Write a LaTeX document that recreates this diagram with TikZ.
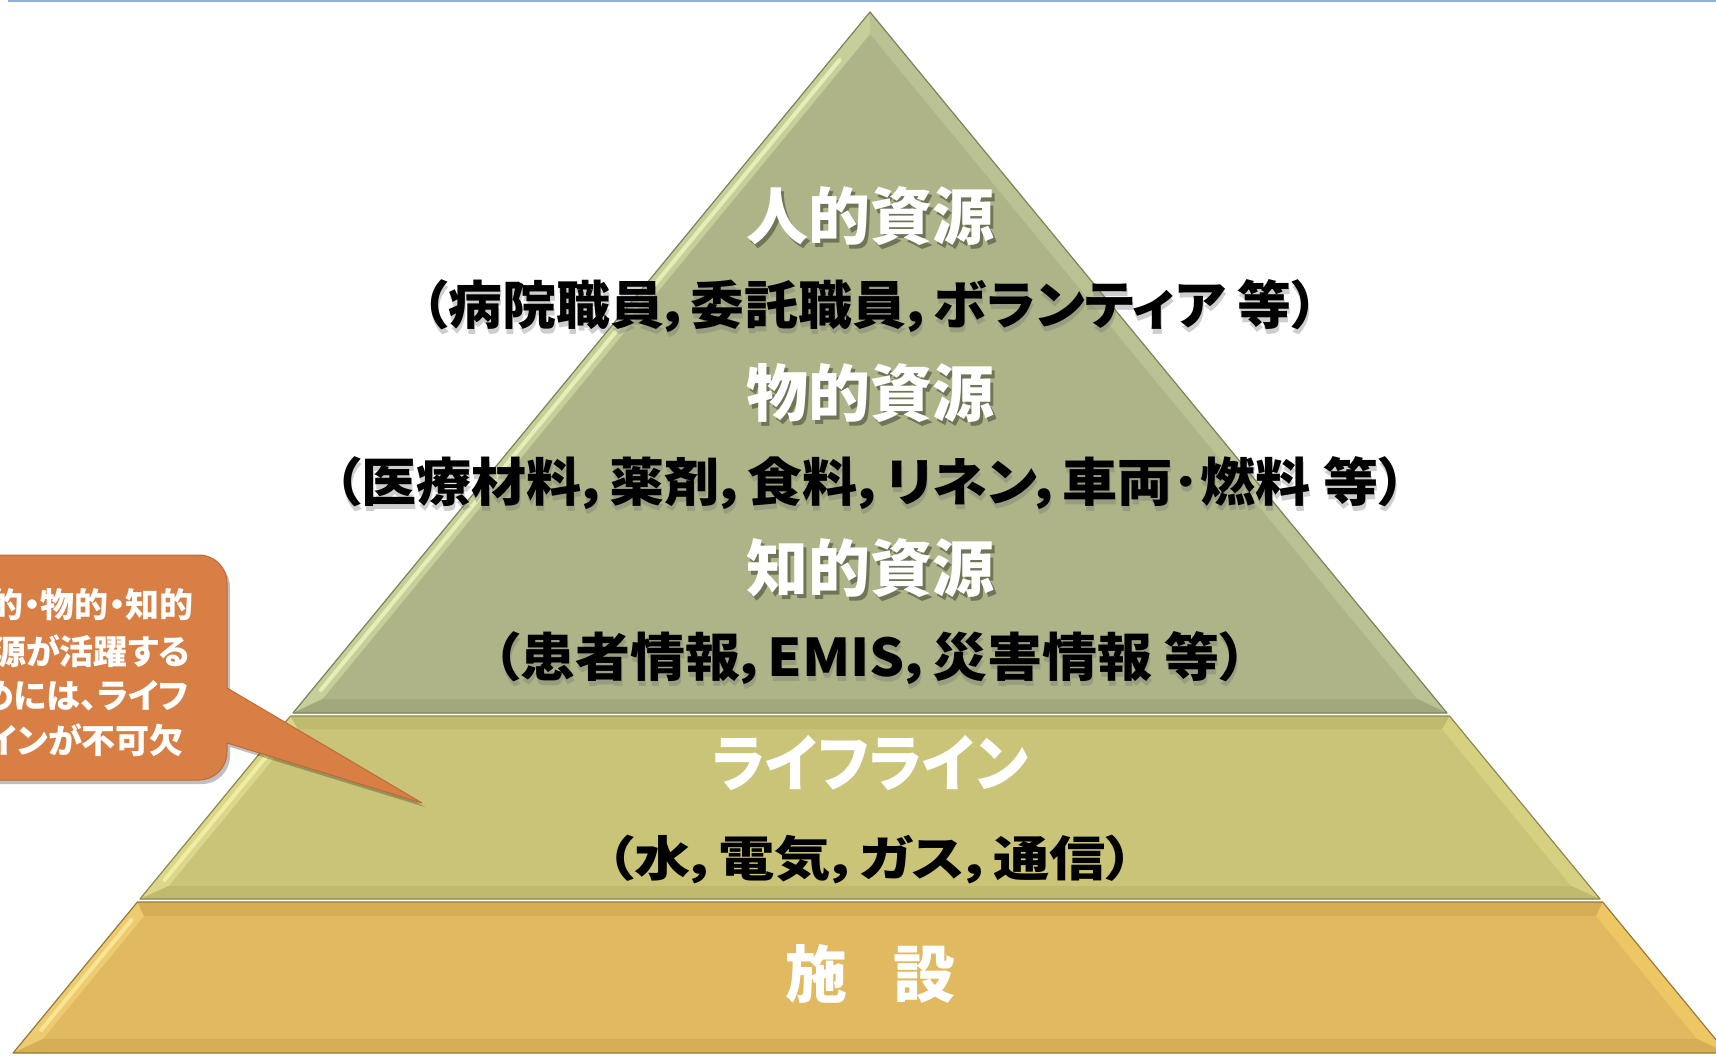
\documentclass[tikz,border=0pt]{standalone}
\usepackage{fontspec}
\newfontfamily\jp[RawFeature=+palt]{Noto Sans CJK JP}
\newfontfamily\jpf{Noto Sans CJK JP}
\definecolor{topbase}{HTML}{AEB487}
\definecolor{toplight}{HTML}{C6CE9A}
\definecolor{tophl}{HTML}{EEF5BE}
\definecolor{topright}{HTML}{BAC192}
\definecolor{topdark}{HTML}{A2A87C}
\definecolor{topline}{HTML}{7C825C}
\definecolor{midbase}{HTML}{C9C478}
\definecolor{midlight}{HTML}{DAD68A}
\definecolor{midhl}{HTML}{F6F2A8}
\definecolor{midright}{HTML}{D6D180}
\definecolor{middark}{HTML}{BFBA6E}
\definecolor{midline}{HTML}{8E894E}
\definecolor{botbase}{HTML}{E1B960}
\definecolor{botlight}{HTML}{EDCB70}
\definecolor{bothl}{HTML}{FDEB9C}
\definecolor{botright}{HTML}{EEC765}
\definecolor{botdark}{HTML}{D6AE56}
\definecolor{botline}{HTML}{977A3A}
\definecolor{callfill}{HTML}{D87F45}
\definecolor{callline}{HTML}{BF6A35}
\definecolor{topblue}{HTML}{8DB3D9}
\tikzset{
  tier/.style={line width=1.2pt, line join=round},
  ttl/.style={font=\jp\bfseries\fontsize{62}{62}\selectfont, text=white, inner sep=0pt},
  ttlsh/.style={font=\jp\bfseries\fontsize{62}{62}\selectfont, text=black, opacity=0.35, inner sep=0pt},
  sub/.style={font=\jp\bfseries\fontsize{52}{52}\selectfont, text=black, inner sep=0pt},
  subsh/.style={font=\jp\bfseries\fontsize{52}{52}\selectfont, text=black!55, opacity=0.35, inner sep=0pt},
  ctext/.style={font=\jp\bfseries\fontsize{34}{34}\selectfont, text=white, inner sep=0pt, anchor=east},
  hl/.style={line width=4pt, line cap=round, opacity=0.8}
}
\begin{document}
\begin{tikzpicture}[x=1pt,y=-1pt]
\useasboundingbox (0,0) rectangle (1716,1055);
\clip (0,0) rectangle (1716,1055);
\fill[white] (0,0) rectangle (1716,1055);
\draw[topblue, line width=2pt] (8,1) -- (1716,1);

% ---------- bottom tier (施設)
\coordinate (bTL) at (137.4,902); \coordinate (bTR) at (1602.6,902);
\coordinate (bBR) at (1726.9,1053); \coordinate (bBL) at (13.1,1053);
\coordinate (biTL) at (144.0,916); \coordinate (biTR) at (1596.0,916);
\coordinate (biBR) at (1697.2,1039); \coordinate (biBL) at (42.8,1039);
\fill[botbase] (bTL) -- (bTR) -- (bBR) -- (bBL) -- cycle;
\fill[botlight] (bTL) -- (bBL) -- (biBL) -- (biTL) -- cycle;
\fill[botright] (bTR) -- (biTR) -- (biBR) -- (bBR) -- cycle;
\fill[botdark] (bTL) -- (bTR) -- (biTR) -- (biTL) -- cycle;
\fill[botdark] (bBL) -- (bBR) -- (biBR) -- (biBL) -- cycle;
\draw[bothl, hl] (131.6,920) -- (41.1,1030);
\draw[botline, tier] (bTL) -- (bTR) -- (bBR) -- (bBL) -- cycle;

% ---------- middle tier (ライフライン)
\coordinate (mTL) at (290.5,716); \coordinate (mTR) at (1449.5,716);
\coordinate (mBR) at (1600.1,899); \coordinate (mBL) at (139.9,899);
\coordinate (miTL) at (297.9,729); \coordinate (miTR) at (1442.1,729);
\coordinate (miBR) at (1571.3,886); \coordinate (miBL) at (168.7,886);
\fill[midbase] (mTL) -- (mTR) -- (mBR) -- (mBL) -- cycle;
\fill[midlight] (mTL) -- (mBL) -- (miBL) -- (miTL) -- cycle;
\fill[midright] (mTR) -- (miTR) -- (miBR) -- (mBR) -- cycle;
\fill[middark] (mTL) -- (mTR) -- (miTR) -- (miTL) -- cycle;
\fill[middark] (mBL) -- (mBR) -- (miBR) -- (miBL) -- cycle;
\draw[midhl, hl] (283.9,735) -- (164.5,880);
\draw[midline, tier] (mTL) -- (mTR) -- (mBR) -- (mBL) -- cycle;

% ---------- top tier (resources)
\coordinate (tA) at (870,12); \coordinate (tBL) at (293,713); \coordinate (tBR) at (1447,713);
\coordinate (tiA) at (870,34); \coordinate (tiBL) at (322.6,699); \coordinate (tiBR) at (1417.4,699);
\fill[topbase] (tA) -- (tBR) -- (tBL) -- cycle;
\fill[toplight] (tA) -- (tBL) -- (tiBL) -- (tiA) -- cycle;
\fill[topright] (tA) -- (tiA) -- (tiBR) -- (tBR) -- cycle;
\fill[topdark] (tBL) -- (tBR) -- (tiBR) -- (tiBL) -- cycle;
\draw[tophl, hl] (839.5,60) -- (320.9,690);
\draw[topline, tier] (tA) -- (tBR) -- (tBL) -- cycle;

% ---------- callout
\fill[black, opacity=0.25] (-40,559) -- (202,559) arc[start angle=-90, end angle=0, radius=28] -- (230,692) -- (425,807) -- (230,747) -- (230,756) arc[start angle=0, end angle=90, radius=28] -- (-40,784) -- cycle;
\draw[callline, fill=callfill, line width=1pt, line join=round] (-40,555) -- (199,555) arc[start angle=-90, end angle=0, radius=28] -- (227,688) -- (422,803) -- (227,743) -- (227,752) arc[start angle=0, end angle=90, radius=28] -- (-40,780) -- cycle;
\node[ctext] (c1) at (194,605) {人的・物的・知的};
\node[ctext] (c2) at (190,651) {資源が活躍する};
\node[ctext] (c3) at (189,696) {ためには、ライフ};
\node[ctext] (c4) at (184,740) {ラインが不可欠};

% ---------- texts
\node[ttlsh] (t1s) at (873,220) {人的資源};
\node[ttl] (t1) at (870,216) {人的資源};
\node[subsh] (s1s) at (871,311) {\resizebox{897pt}{\height}{（病院職員，委託職員，ボランティア 等）}};
\node[sub] (s1) at (870,306) {\resizebox{897pt}{\height}{（病院職員，委託職員，ボランティア 等）}};

\node[ttlsh] (t2s) at (873,397) {物的資源};
\node[ttl] (t2) at (870,393) {物的資源};
\node[subsh] (s2s) at (871,488) {\resizebox{1072pt}{\height}{（医療材料，薬剤，食料，リネン，車両･燃料 等）}};
\node[sub] (s2) at (870,483) {\resizebox{1072pt}{\height}{（医療材料，薬剤，食料，リネン，車両･燃料 等）}};

\node[ttlsh] (t3s) at (873,572) {知的資源};
\node[ttl] (t3) at (870,568) {知的資源};
\node[subsh] (s3s) at (871,663) {\resizebox{755pt}{\height}{（患者情報，EMIS，災害情報 等）}};
\node[sub] (s3) at (870,658) {\resizebox{755pt}{\height}{（患者情報，EMIS，災害情報 等）}};

\node[ttl] (t4) at (870,763) {\resizebox{316pt}{\height}{ライフライン}};
\node[sub, font=\jp\bfseries\fontsize{48}{48}\selectfont] (s4) at (870,859) {\resizebox{528pt}{\height}{（水，電気，ガス，通信）}};

\node[ttl, font=\jpf\bfseries\fontsize{62}{62}\selectfont] (t5) at (870,974) {施\kern-16pt　設};
\end{tikzpicture}
\end{document}
